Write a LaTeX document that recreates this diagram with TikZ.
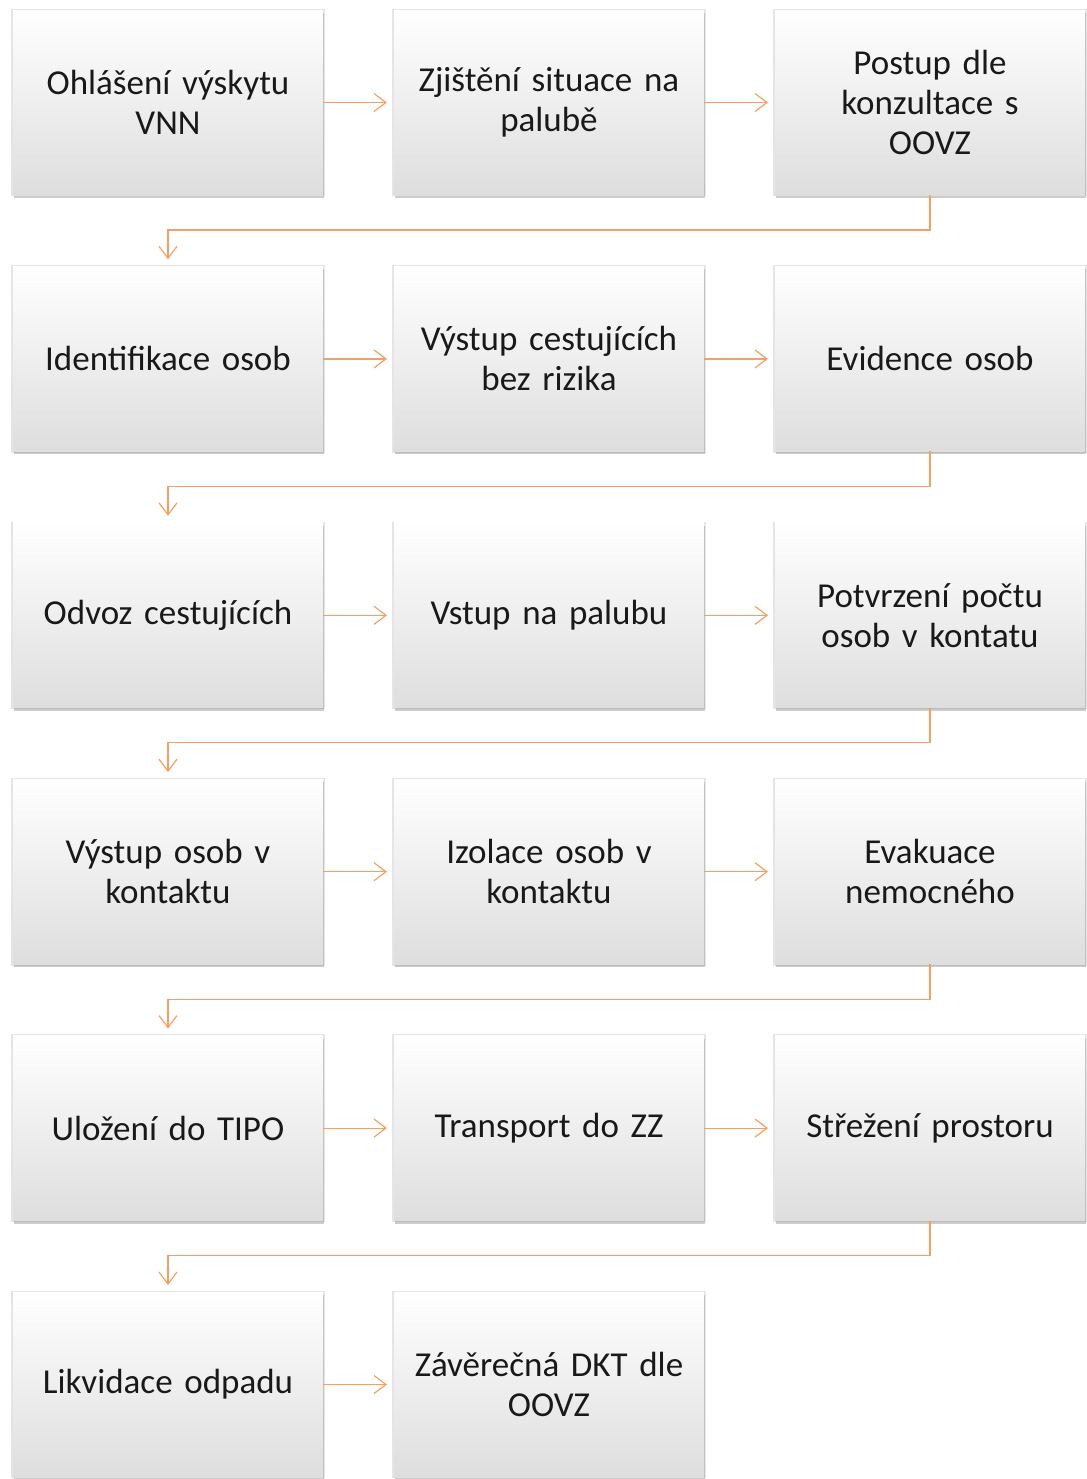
\documentclass[tikz,border=0pt]{standalone}
\usepackage{fontspec}
\setmainfont{Carlito}
\usetikzlibrary{positioning,shadows,arrows.meta}
\definecolor{flowline}{RGB}{243,160,100}

\begin{document}
\begin{tikzpicture}[
	node distance=35.7pt and 35.5pt,
	stepbox/.style={rectangle, minimum width=155pt, minimum height=92.5pt, text width=150pt, align=center, inner sep=0pt, outer sep=0pt,
		top color=white, middle color=white, bottom color=gray!26,
		general shadow={fill=black, opacity=0.1, shadow scale=1.014},
		drop shadow={shadow xshift=0.3pt, shadow yshift=-1.5pt, opacity=0.4},
		font=\fontsize{17.5}{20}\selectfont, text=black!90},
	flow/.style={draw=flowline, line width=0.6pt, -{Straight Barb[length=6pt, width=9pt]}, shorten >=3.5pt}]
	\useasboundingbox (0,0) rectangle (543.5pt,-739.5pt);
	% boxes
	\node[stepbox] (ohlaseni) at (84pt,-51.25pt) {Ohlášení výskytu\\VNN};
	\node[stepbox, right=of ohlaseni] (zjisteni) {Zjištění situace na\\palubě};
	\node[stepbox, right=of zjisteni] (postup) {Postup dle\\konzultace s\\OOVZ};
	\node[stepbox, below=of ohlaseni] (identifikace) {Identifikace osob};
	\node[stepbox, right=of identifikace] (vystup) {Výstup cestujících\\bez rizika};
	\node[stepbox, right=of vystup] (evidence) {Evidence osob};
	\node[stepbox, below=of identifikace] (odvoz) {Odvoz cestujících};
	\node[stepbox, right=of odvoz] (vstup) {Vstup na palubu};
	\node[stepbox, right=of vstup] (potvrzeni) {Potvrzení počtu\\osob v kontatu};
	\node[stepbox, below=of odvoz] (vystupk) {Výstup osob v\\kontaktu};
	\node[stepbox, right=of vystupk] (izolace) {Izolace osob v\\kontaktu};
	\node[stepbox, right=of izolace] (evakuace) {Evakuace\\nemocného};
	\node[stepbox, below=of vystupk] (ulozeni) {Uložení do TIPO};
	\node[stepbox, right=of ulozeni] (transport) {Transport do ZZ};
	\node[stepbox, right=of transport] (strezeni) {Střežení prostoru};
	\node[stepbox, below=of ulozeni] (likvidace) {Likvidace odpadu};
	\node[stepbox, right=of likvidace] (zaverecna) {Závěrečná DKT dle\\OOVZ};
	% arrows
	\draw[flow] (ohlaseni) -- (zjisteni);
	\draw[flow] (zjisteni) -- (postup);
	\draw[flow] (postup.south) -- ++(0,-17.5pt) -| (identifikace.north);
	\draw[flow] (identifikace) -- (vystup);
	\draw[flow] (vystup) -- (evidence);
	\draw[flow] (evidence.south) -- ++(0,-17.5pt) -| (odvoz.north);
	\draw[flow] (odvoz) -- (vstup);
	\draw[flow] (vstup) -- (potvrzeni);
	\draw[flow] (potvrzeni.south) -- ++(0,-17.5pt) -| (vystupk.north);
	\draw[flow] (vystupk) -- (izolace);
	\draw[flow] (izolace) -- (evakuace);
	\draw[flow] (evakuace.south) -- ++(0,-17.5pt) -| (ulozeni.north);
	\draw[flow] (ulozeni) -- (transport);
	\draw[flow] (transport) -- (strezeni);
	\draw[flow] (strezeni.south) -- ++(0,-17.5pt) -| (likvidace.north);
	\draw[flow] (likvidace) -- (zaverecna);
\end{tikzpicture}
\end{document}
